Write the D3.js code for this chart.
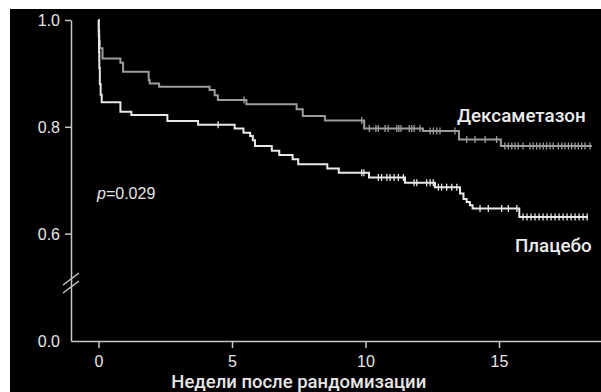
<!DOCTYPE html>
<html>
<head>
<meta charset="utf-8">
<script src="https://cdn.jsdelivr.net/npm/d3@7"></script>
<style>
  body { margin: 0; background: #fff; }
  svg { display: block; }
</style>
</head>
<body>
<div id="container"></div>
<script>
// Kaplan-Meier steps: time (weeks) and survival after the step
const dexTimes = [0, 0.01, 0.03, 0.05, 0.15, 0.82, 0.92, 1.88, 1.92, 2.27, 4.16, 4.35, 4.47, 5.54,
    7.42, 7.65, 8.48, 9.95, 12.15, 13.5, 15.07];
const dexSurv = [1.0, 0.98, 0.96, 0.947, 0.928, 0.92, 0.903, 0.887, 0.881, 0.875, 0.869, 0.859, 0.85, 0.842,
    0.833, 0.82, 0.812, 0.797, 0.792, 0.776, 0.764];
const dexEnd = 18.48;
const dexCensored = [0.04, 5.45, 9.86, 10.14, 10.39, 10.48, 10.73, 10.85, 11.17, 11.25, 11.33, 11.64, 11.73,
    11.82, 12.04, 12.42, 12.54, 12.67, 12.79, 13.35, 13.79, 14.1, 14.48, 14.91, 15.22, 15.35, 15.48, 15.6,
    15.72, 15.9, 16.16, 16.28, 16.41, 16.53, 16.66, 16.78, 16.91, 17.03, 17.22, 17.35, 17.47, 17.6, 17.72,
    17.85, 17.97, 18.1, 18.22, 18.41];

const plaTimes = [0, 0.01, 0.02, 0.03, 0.05, 0.08, 0.12, 0.82, 1.23, 2.58, 3.73, 5.1, 5.43, 5.68, 5.78,
    5.86, 6.49, 6.77, 7.27, 7.48, 8.57, 9.0, 10.13, 11.48, 12.6, 13.54, 13.67, 13.79, 13.91, 14.01, 15.76];
const plaSurv = [1.0, 0.97, 0.94, 0.91, 0.88, 0.86, 0.846, 0.828, 0.822, 0.811, 0.804, 0.797, 0.789, 0.783,
    0.775, 0.764, 0.755, 0.747, 0.739, 0.73, 0.722, 0.714, 0.705, 0.695, 0.687, 0.675, 0.665, 0.659, 0.653,
    0.647, 0.631];
const plaEnd = 18.33;
const plaCensored = [4.48, 9.86, 9.94, 10.48, 10.6, 10.8, 10.92, 11.07, 11.23, 11.42, 11.82, 11.92, 12.29,
    12.42, 12.54, 12.73, 12.85, 13.04, 13.23, 13.42, 14.29, 14.6, 15.1, 15.35, 15.67, 15.9, 16.05, 16.2,
    16.35, 16.5, 16.65, 16.8, 16.95, 17.1, 17.25, 17.4, 17.55, 17.7, 17.85, 18.0, 18.15, 18.3];

const xTicks = [0, 5, 10, 15];
const yTicks = [0, 0.6, 0.8, 1.0];
const xTitle = "Недели после рандомизации";
const dexLabel = "Дексаметазон";
const plaLabel = "Плацебо";

const width = 601;
const height = 392;
const axisColor = "#c8c8c8";
const dexColor = "#9c9c9c";
const plaColor = "#e8e8e8";

const svg = d3.select("#container")
    .append("svg")
    .attr("width", width)
    .attr("height", height);

// black panel
svg.append("rect")
    .attr("x", 10)
    .attr("y", 9)
    .attr("width", width - 10)
    .attr("height", height - 9)
    .attr("fill", "#000");

// x starts a little before 0 so the axis line meets the y axis
const x = d3.scaleLinear()
    .domain([-1.03, 19])
    .range([71, 605.8]);

// broken y axis: 0 .. 0.5 squeezed, 0.5 .. 1.0 linear
const y = d3.scaleLinear()
    .domain([0, 0.5, 1])
    .range([341, 287, 20]);

const gx = svg.append("g")
    .attr("transform", `translate(0,${y(0)})`)
    .call(d3.axisBottom(x).tickValues(xTicks).tickSize(7).tickSizeOuter(0).tickPadding(8));

const gy = svg.append("g")
    .attr("transform", `translate(${x(-1.03)},0)`)
    .call(d3.axisLeft(y).tickValues(yTicks).tickSize(6).tickSizeOuter(0).tickPadding(5)
        .tickFormat(d3.format(".1f")));

[gx, gy].forEach(g => {
    g.selectAll("path, line").attr("stroke", axisColor).attr("stroke-width", 1.5);
    g.selectAll("text")
        .attr("fill", "#e6e6e6")
        .style("font-family", "'Liberation Sans', Arial, sans-serif")
        .style("font-size", "16px");
});
gy.selectAll(".tick").filter(d => d === 0).select("line").remove();
gy.selectAll(".tick text").attr("dy", "0.36em");

// axis break marks
[279, 287].forEach(cy => {
    svg.append("line")
        .attr("x1", 63).attr("y1", cy + 6)
        .attr("x2", 79).attr("y2", cy - 6)
        .attr("stroke", axisColor)
        .attr("stroke-width", 1.5);
});

// x title
svg.append("text")
    .attr("x", x(7.5))
    .attr("y", 388)
    .attr("text-anchor", "middle")
    .attr("fill", "#e6e6e6")
    .style("font-family", "Roboto, sans-serif")
    .style("font-weight", 500)
    .style("font-size", "18.5px")
    .text(xTitle);

// survival curves
const line = d3.line()
    .x(d => x(d[0]))
    .y(d => y(d[1]))
    .curve(d3.curveStepAfter);

function drawCurve(times, surv, end, censored, color) {
    const pts = times.map((t, i) => [t, surv[i]]);
    pts.push([end, surv[surv.length - 1]]);
    svg.append("path")
        .datum(pts)
        .attr("d", line)
        .attr("fill", "none")
        .attr("stroke", color)
        .attr("stroke-width", 2);

    const bis = d3.bisector(d => d).right;
    censored.forEach(t => {
        const s = surv[bis(times, t) - 1];
        svg.append("line")
            .attr("x1", x(t)).attr("x2", x(t))
            .attr("y1", y(s) - 3.5).attr("y2", y(s) + 3.5)
            .attr("stroke", color)
            .attr("stroke-width", 1.3);
    });
}

drawCurve(dexTimes, dexSurv, dexEnd, dexCensored, dexColor);
drawCurve(plaTimes, plaSurv, plaEnd, plaCensored, plaColor);

// labels
svg.append("text")
    .attr("x", 457)
    .attr("y", 122)
    .attr("fill", "#ececec")
    .style("font-family", "Roboto, sans-serif")
    .style("font-weight", 500)
    .style("font-size", "18.8px")
    .text(dexLabel);

svg.append("text")
    .attr("x", 515)
    .attr("y", 252)
    .attr("fill", "#ececec")
    .style("font-family", "Roboto, sans-serif")
    .style("font-weight", 500)
    .style("font-size", "18.8px")
    .text(plaLabel);

const pText = svg.append("text")
    .attr("x", 97)
    .attr("y", 199)
    .attr("fill", "#e6e6e6")
    .style("font-family", "'Liberation Sans', Arial, sans-serif")
    .style("font-size", "16px");
pText.append("tspan").style("font-style", "italic").text("p");
pText.append("tspan").text("=0.029");
</script>
</body>
</html>
